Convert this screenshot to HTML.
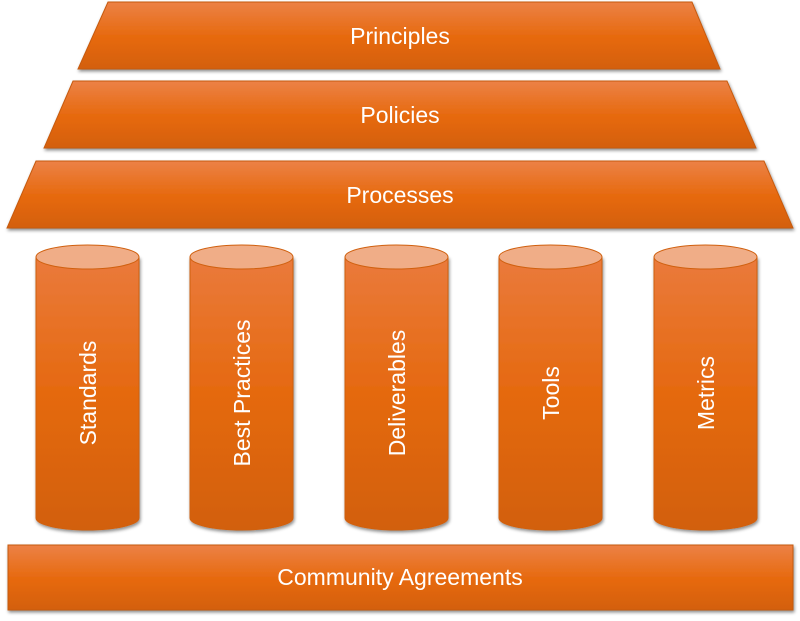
<!DOCTYPE html>
<html><head><meta charset="utf-8"><style>html,body{margin:0;padding:0;background:#fff}svg{display:block}</style></head><body>
<svg width="800" height="621" viewBox="0 0 800 621" xmlns="http://www.w3.org/2000/svg" font-family="Liberation Sans, sans-serif">
<defs>
<linearGradient id="g" x1="0" y1="0" x2="0" y2="1">
<stop offset="0" stop-color="#ec8146"/><stop offset="0.55" stop-color="#e6680b"/><stop offset="1" stop-color="#d3600f"/>
</linearGradient>
<linearGradient id="c" x1="0" y1="0" x2="0" y2="1">
<stop offset="0" stop-color="#ea7a3c"/><stop offset="0.5" stop-color="#e5690f"/><stop offset="1" stop-color="#d2600e"/>
</linearGradient>
<filter id="s" x="-10%" y="-10%" width="120%" height="130%"><feDropShadow dx="1" dy="2" stdDeviation="1.5" flood-color="#000" flood-opacity="0.45"/></filter>
</defs>
<g stroke="#c65a10" stroke-width="1" filter="url(#s)">
<polygon points="108,2 692,2 720,69 78,69" fill="url(#g)"/>
<polygon points="73,81 727,81 756,148 44,148" fill="url(#g)"/>
<polygon points="36,161 764,161 793,228 7,228" fill="url(#g)"/>
<rect x="8" y="545" width="785" height="65" fill="url(#g)"/>
</g>
<g fill="#fff" font-size="23" text-anchor="middle">
<text x="400" y="44">Principles</text>
<text x="400" y="123">Policies</text>
<text x="400" y="203">Processes</text>
<text x="400" y="585">Community Agreements</text>
</g>
<g stroke="#d0600f" stroke-width="1">
<g filter="url(#s)">
<path d="M36,257 L36,518 A51.5,12 0 0 0 139,518 L139,257 Z" fill="url(#c)"/>
<path d="M190,257 L190,518 A51.5,12 0 0 0 293,518 L293,257 Z" fill="url(#c)"/>
<path d="M345,257 L345,518 A51.5,12 0 0 0 448,518 L448,257 Z" fill="url(#c)"/>
<path d="M499,257 L499,518 A51.5,12 0 0 0 602,518 L602,257 Z" fill="url(#c)"/>
<path d="M654,257 L654,518 A51.5,12 0 0 0 757,518 L757,257 Z" fill="url(#c)"/>
</g>
<ellipse cx="87.5" cy="257" rx="51.5" ry="12" fill="#f0ad87"/>
<ellipse cx="241.5" cy="257" rx="51.5" ry="12" fill="#f0ad87"/>
<ellipse cx="396.5" cy="257" rx="51.5" ry="12" fill="#f0ad87"/>
<ellipse cx="550.5" cy="257" rx="51.5" ry="12" fill="#f0ad87"/>
<ellipse cx="705.5" cy="257" rx="51.5" ry="12" fill="#f0ad87"/>
</g>
<g fill="#fff" font-size="23" text-anchor="middle">
<text transform="translate(96,393) rotate(-90)">Standards</text>
<text transform="translate(250,393) rotate(-90)">Best Practices</text>
<text transform="translate(405,393) rotate(-90)">Deliverables</text>
<text transform="translate(559,393) rotate(-90)">Tools</text>
<text transform="translate(714,393) rotate(-90)">Metrics</text>
</g>
</svg>
</body></html>
